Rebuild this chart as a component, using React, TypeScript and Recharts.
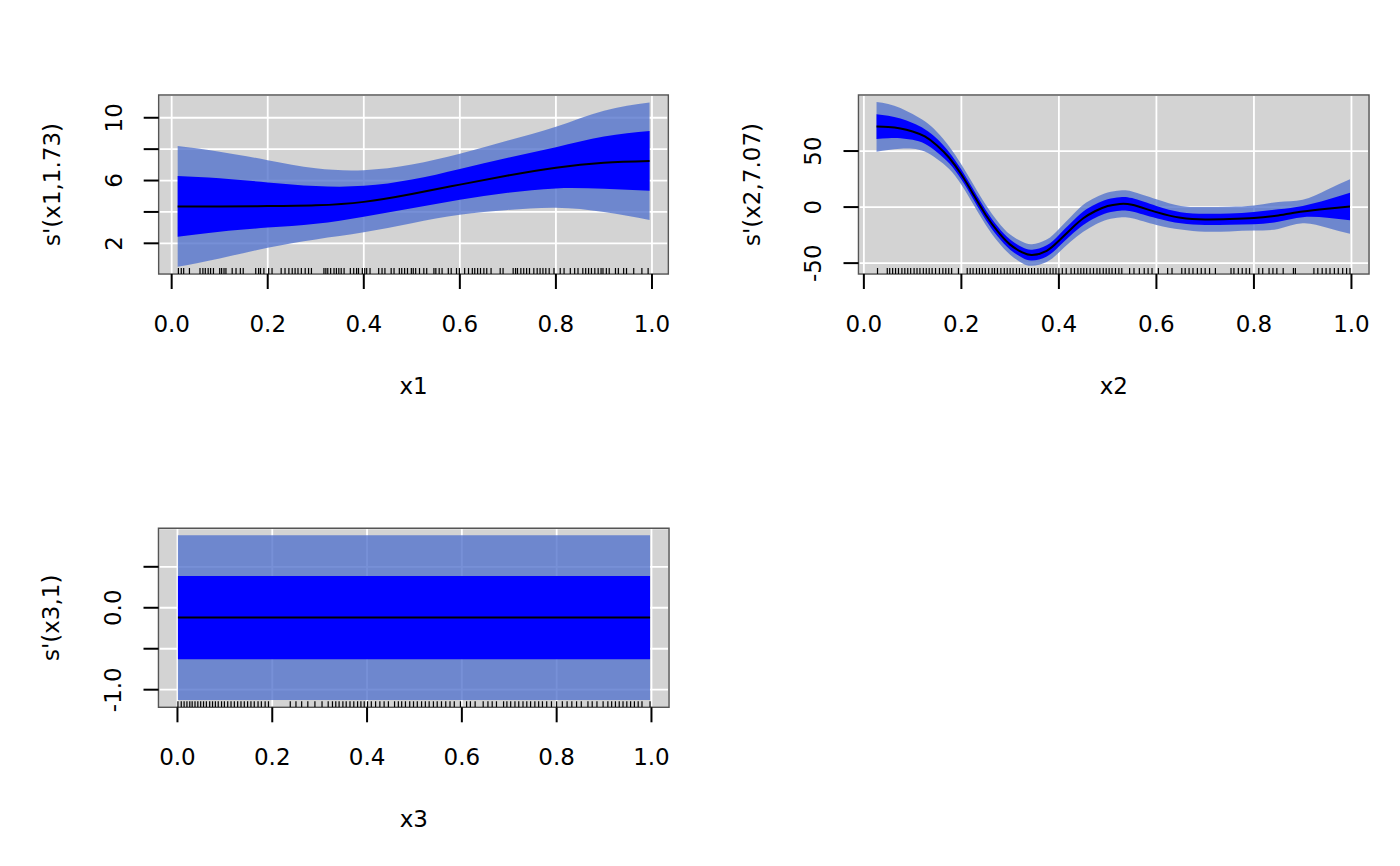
import React from "react";
import {
  Area,
  CartesianGrid,
  ComposedChart,
  Label,
  Line,
  ReferenceArea,
  Scatter,
  XAxis,
  YAxis,
} from "recharts";

const FONT = "'DejaVu Sans', sans-serif";
const FONT_SIZE = 23;

// shared x axis
const xTicks = [0, 0.2, 0.4, 0.6, 0.8, 1];
const xTickText = ["0.0", "0.2", "0.4", "0.6", "0.8", "1.0"];

// panel 1: s'(x1,1.73)
const x1 = [0.0125, 0.1, 0.2, 0.3, 0.4, 0.5, 0.6, 0.7, 0.8, 0.9, 0.995];
const fit1 = [4.34, 4.35, 4.37, 4.42, 4.64, 5.14, 5.74, 6.32, 6.82, 7.13, 7.24];
const darkLo1 = [2.42, 2.74, 3.0, 3.24, 3.7, 4.24, 4.78, 5.22, 5.5, 5.47, 5.35];
const darkHi1 = [6.29, 6.14, 5.88, 5.65, 5.66, 6.06, 6.74, 7.45, 8.12, 8.8, 9.15];
const lightLo1 = [0.51, 1.04, 1.72, 2.25, 2.7, 3.28, 3.82, 4.12, 4.27, 4.0, 3.49];
const lightHi1 = [8.2, 7.84, 7.3, 6.78, 6.66, 7.02, 7.7, 8.55, 9.43, 10.45, 10.98];
const yTicks1 = [2, 4, 6, 8, 10];
const yTickText1 = ["2", "", "6", "", "10"];
const rug1 = [
  0.014, 0.02, 0.025, 0.037, 0.059, 0.065, 0.07, 0.076, 0.081, 0.087, 0.1, 0.104,
  0.109, 0.113, 0.126, 0.134, 0.143, 0.149, 0.175, 0.181, 0.185, 0.192, 0.202,
  0.209, 0.228, 0.236, 0.244, 0.251, 0.257, 0.263, 0.27, 0.278, 0.285, 0.291,
  0.317, 0.321, 0.325, 0.331, 0.338, 0.343, 0.348, 0.353, 0.359, 0.372, 0.379,
  0.385, 0.389, 0.397, 0.402, 0.406, 0.413, 0.431, 0.438, 0.444, 0.457, 0.463,
  0.474, 0.479, 0.485, 0.491, 0.499, 0.503, 0.508, 0.516, 0.525, 0.531, 0.546,
  0.55, 0.557, 0.563, 0.576, 0.582, 0.593, 0.599, 0.61, 0.618, 0.626, 0.631,
  0.637, 0.643, 0.65, 0.656, 0.665, 0.684, 0.69, 0.711, 0.716, 0.72, 0.727,
  0.733, 0.739, 0.745, 0.754, 0.761, 0.767, 0.773, 0.779, 0.786, 0.796, 0.809,
  0.817, 0.83, 0.839, 0.846, 0.856, 0.862, 0.868, 0.874, 0.881, 0.888, 0.894,
  0.898, 0.905, 0.911, 0.924, 0.93, 0.941, 0.947, 0.962, 0.979, 0.992,
];

// panel 2: s'(x2,7.07)
const x2 = [
  0.026, 0.05, 0.075, 0.1, 0.125, 0.15, 0.175, 0.2, 0.225, 0.25, 0.275, 0.3, 0.325,
  0.345, 0.375, 0.4, 0.425, 0.45, 0.475, 0.5, 0.525, 0.55, 0.6, 0.65, 0.7, 0.75,
  0.8, 0.85, 0.9, 0.95, 0.997,
];
const fit2 = [
  71.9, 71.5, 70.2, 67.5, 63, 55, 44, 29, 11, -7, -22, -33.5, -40.5, -42.8, -39,
  -30, -19.5, -10, -3.5, 1, 2.8, 2, -4.5, -9.5, -11, -10.7, -9.8, -7.5, -4, -1.5,
  0.5,
];
const darkLo2 = [
  60.8, 61.5, 61.5, 60, 56.5, 49, 39, 24.5, 6.5, -11.5, -26.5, -38, -45.2, -47.6,
  -44, -35.2, -25, -16, -9.5, -5, -3.2, -4, -10, -14.5, -16, -15.7, -15.3, -13, -9,
  -9.5, -11.8,
];
const darkHi2 = [
  82.9, 81.5, 79, 75, 69.5, 61, 49, 33.5, 15.5, -2.5, -17.5, -29, -35.8, -38, -34,
  -24.8, -14, -4, 2.5, 7, 8.8, 8, 1, -4.5, -6, -5.7, -4.3, -2, 1, 6.5, 12.8,
];
const lightLo2 = [
  49.4, 51, 52, 52, 49.5, 43, 34, 20, 2, -16, -31, -42.5, -50, -52.4, -49, -40.5,
  -30.5, -22, -15.5, -11, -9.2, -10, -16, -20, -22, -21.7, -21, -19.5, -14.5, -18.5,
  -23.9,
];
const lightHi2 = [
  93.7, 92, 88.5, 83, 76.5, 67, 54, 38, 20, 2, -13, -24.5, -31, -33.2, -29, -19.5,
  -8.5, 2, 8.5, 13, 14.8, 14, 7, 1, 0, 0.3, 1.4, 4.5, 6.5, 15.5, 24.8,
];
const yTicks2 = [-50, 0, 50];
const yTickText2 = ["-50", "0", "50"];
const rug2 = [
  0.028, 0.048, 0.053, 0.059, 0.065, 0.071, 0.078, 0.084, 0.09, 0.096, 0.103,
  0.109, 0.115, 0.122, 0.128, 0.134, 0.14, 0.147, 0.155, 0.162, 0.168, 0.174,
  0.18, 0.194, 0.212, 0.218, 0.224, 0.231, 0.237, 0.243, 0.249, 0.256, 0.263,
  0.268, 0.274, 0.281, 0.288, 0.294, 0.3, 0.306, 0.313, 0.319, 0.325, 0.331,
  0.338, 0.344, 0.35, 0.357, 0.363, 0.369, 0.375, 0.382, 0.388, 0.394, 0.4, 0.407,
  0.415, 0.425, 0.432, 0.439, 0.445, 0.451, 0.457, 0.464, 0.471, 0.478, 0.484,
  0.491, 0.497, 0.503, 0.509, 0.516, 0.523, 0.529, 0.545, 0.554, 0.565, 0.575,
  0.583, 0.591, 0.604, 0.623, 0.632, 0.652, 0.659, 0.667, 0.675, 0.684, 0.692,
  0.7, 0.709, 0.721, 0.753, 0.759, 0.768, 0.776, 0.784, 0.791, 0.81, 0.818, 0.831,
  0.839, 0.847, 0.86, 0.881, 0.885, 0.923, 0.931, 0.94, 0.948, 0.956, 0.965, 0.973,
  0.982, 0.99, 0.997,
];

// panel 3: s'(x3,1)
const x3 = [0.001, 0.997];
const fit3 = [-0.12, -0.12];
const darkLo3 = [-0.628, -0.628];
const darkHi3 = [0.388, 0.388];
const lightLo3 = [-1.125, -1.125];
const lightHi3 = [0.885, 0.885];
const yTicks3 = [-1, -0.5, 0, 0.5];
const yTickText3 = ["-1.0", "", "0.0", ""];
const rug3 = [
  0.001, 0.008, 0.014, 0.02, 0.026, 0.031, 0.037, 0.043, 0.049, 0.055, 0.061,
  0.068, 0.074, 0.08, 0.086, 0.093, 0.099, 0.106, 0.113, 0.12, 0.127, 0.134, 0.141,
  0.148, 0.155, 0.162, 0.17, 0.177, 0.185, 0.192, 0.238, 0.25, 0.262, 0.275, 0.29,
  0.305, 0.318, 0.327, 0.334, 0.341, 0.349, 0.356, 0.364, 0.372, 0.38, 0.387,
  0.394, 0.401, 0.409, 0.418, 0.427, 0.436, 0.445, 0.458, 0.466, 0.473, 0.481,
  0.49, 0.498, 0.506, 0.515, 0.523, 0.531, 0.54, 0.548, 0.557, 0.566, 0.575, 0.584,
  0.597, 0.61, 0.618, 0.628, 0.645, 0.655, 0.664, 0.673, 0.688, 0.695, 0.703,
  0.712, 0.72, 0.729, 0.737, 0.745, 0.754, 0.762, 0.77, 0.779, 0.789, 0.8, 0.812,
  0.822, 0.832, 0.842, 0.852, 0.866, 0.875, 0.885, 0.898, 0.908, 0.916, 0.924,
  0.932, 0.94, 0.948, 0.956, 0.964, 0.972, 0.98, 0.997,
];

const buildRows = (xs, fit, dLo, dHi, lLo, lHi) =>
  xs.map((x, i) => ({
    x,
    fit: fit[i],
    dark: [dLo[i], dHi[i]],
    light: [lLo[i], lHi[i]],
  }));

const RugTick = (props) => {
  const { cx, cy } = props;
  if (cx == null || cy == null) return <g />;
  return <line x1={cx} x2={cx} y1={cy - 6} y2={cy} stroke="#000" strokeWidth={1.2} />;
};

const Panel = ({
  left,
  top,
  width,
  height,
  box,
  xDomain,
  yDomain,
  yTicks,
  yTickText,
  rows,
  rug,
  xTitle,
  yTitle,
  curve,
}) => {
  const [pl, pt, pr, pb] = box;
  const rugRows = rug.map((x) => ({ x, r: yDomain[0] }));
  return (
    <div style={{ position: "absolute", left, top, width, height }}>
      <ComposedChart
        width={width}
        height={height}
        data={rows}
        margin={{ top: pt, right: width - pr, bottom: 0, left: 0 }}
      >
        <CartesianGrid fill="#D3D3D3" stroke="#FFFFFF" strokeWidth={1.8} />
        <XAxis
          type="number"
          dataKey="x"
          domain={xDomain}
          ticks={xTicks}
          interval={0}
          allowDataOverflow
          axisLine={false}
          tickSize={15}
          tickLine={{ stroke: "#000", strokeWidth: 2 }}
          height={height - pb}
          tick={(p) => (
            <text
              x={p.x}
              y={pb + 58}
              textAnchor="middle"
              fontFamily={FONT}
              fontSize={FONT_SIZE}
              fill="#000"
            >
              {xTickText[xTicks.indexOf(p.payload.value)]}
            </text>
          )}
        >
          <Label
            content={() => (
              <text
                x={(pl + pr) / 2}
                y={pb + 120}
                textAnchor="middle"
                fontFamily={FONT}
                fontSize={FONT_SIZE}
                fill="#000"
              >
                {xTitle}
              </text>
            )}
          />
        </XAxis>
        <YAxis
          type="number"
          domain={yDomain}
          ticks={yTicks}
          interval={0}
          allowDataOverflow
          axisLine={false}
          tickSize={15}
          tickLine={{ stroke: "#000", strokeWidth: 2 }}
          width={pl}
          tick={(p) => {
            const tx = pl - 37;
            return (
              <text
                x={tx}
                y={p.y}
                transform={`rotate(-90 ${tx} ${p.y})`}
                textAnchor="middle"
                fontFamily={FONT}
                fontSize={FONT_SIZE}
                fill="#000"
              >
                {yTickText[yTicks.indexOf(p.payload.value)]}
              </text>
            );
          }}
        >
          <Label
            content={() => {
              const tx = pl - 99;
              const ty = (pt + pb) / 2;
              return (
                <text
                  x={tx}
                  y={ty}
                  transform={`rotate(-90 ${tx} ${ty})`}
                  textAnchor="middle"
                  fontFamily={FONT}
                  fontSize={FONT_SIZE}
                  fill="#000"
                >
                  {yTitle}
                </text>
              );
            }}
          />
        </YAxis>
        <Area
          type={curve}
          dataKey="light"
          stroke="none"
          fill="#5574CD"
          fillOpacity={0.8}
          isAnimationActive={false}
          activeDot={false}
        />
        <Area
          type={curve}
          dataKey="dark"
          stroke="none"
          fill="#0000FF"
          fillOpacity={1}
          isAnimationActive={false}
          activeDot={false}
        />
        <Line
          type={curve}
          dataKey="fit"
          stroke="#000"
          strokeWidth={2}
          dot={false}
          activeDot={false}
          isAnimationActive={false}
        />
        <Scatter
          data={rugRows}
          dataKey="r"
          shape={RugTick}
          isAnimationActive={false}
        />
        <ReferenceArea
          x1={xDomain[0]}
          x2={xDomain[1]}
          y1={yDomain[0]}
          y2={yDomain[1]}
          fill="none"
          stroke="#555"
          strokeWidth={1.5}
          ifOverflow="visible"
        />
      </ComposedChart>
    </div>
  );
};

export default function App() {
  return (
    <div
      style={{
        position: "absolute",
        left: 0,
        top: 0,
        width: 1400,
        height: 866,
        background: "#fff",
      }}
    >
      <Panel
        left={0}
        top={0}
        width={700}
        height={430}
        box={[158.7, 95, 668.3, 274]}
        xDomain={[-0.027, 1.034]}
        yDomain={[0.045, 11.45]}
        yTicks={yTicks1}
        yTickText={yTickText1}
        rows={buildRows(x1, fit1, darkLo1, darkHi1, lightLo1, lightHi1)}
        rug={rug1}
        xTitle="x1"
        yTitle="s'(x1,1.73)"
        curve="natural"
      />
      <Panel
        left={700}
        top={0}
        width={700}
        height={430}
        box={[158.5, 95, 669, 274]}
        xDomain={[-0.011, 1.036]}
        yDomain={[-59.7, 100]}
        yTicks={yTicks2}
        yTickText={yTickText2}
        rows={buildRows(x2, fit2, darkLo2, darkHi2, lightLo2, lightHi2)}
        rug={rug2}
        xTitle="x2"
        yTitle="s'(x2,7.07)"
        curve="natural"
      />
      <Panel
        left={0}
        top={433}
        width={700}
        height={433}
        box={[158.5, 95.3, 669, 274.3]}
        xDomain={[-0.04, 1.037]}
        yDomain={[-1.215, 0.97]}
        yTicks={yTicks3}
        yTickText={yTickText3}
        rows={buildRows(x3, fit3, darkLo3, darkHi3, lightLo3, lightHi3)}
        rug={rug3}
        xTitle="x3"
        yTitle="s'(x3,1)"
        curve="linear"
      />
    </div>
  );
}
